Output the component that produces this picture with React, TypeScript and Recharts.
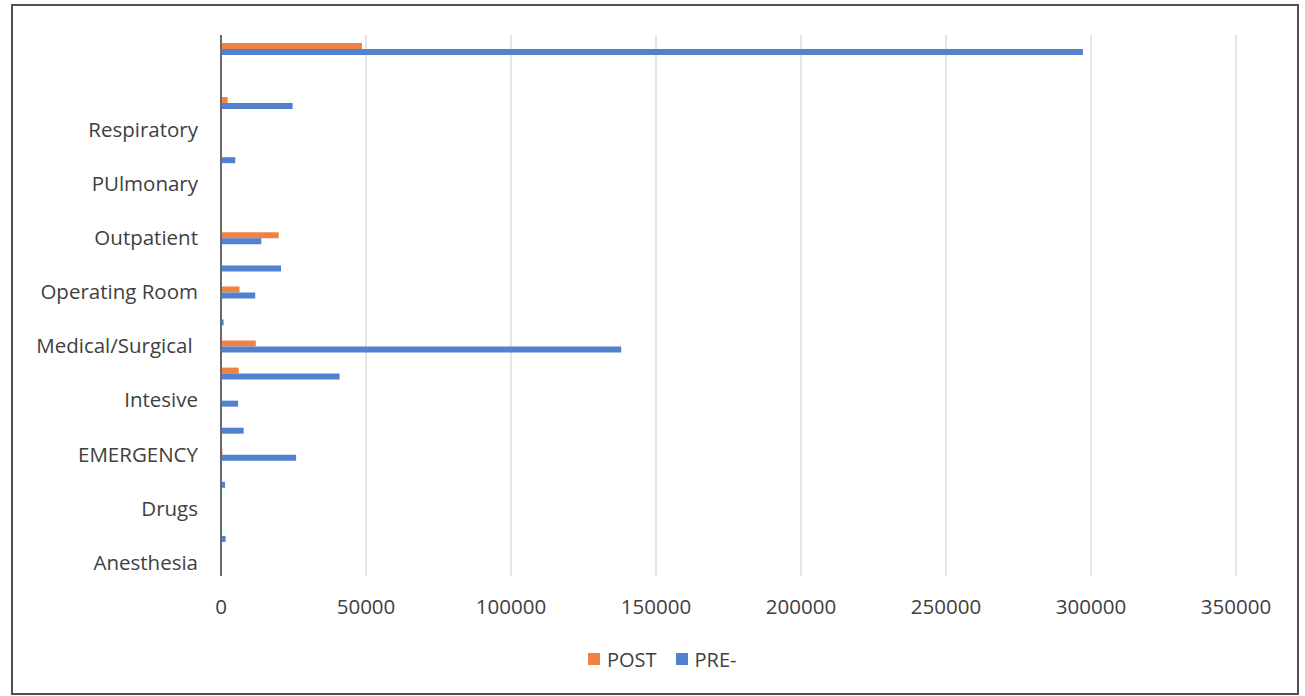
import { FC } from "react";
import {
  BarChart,
  Bar,
  XAxis,
  YAxis,
  CartesianGrid,
} from "recharts";

// categories listed bottom to top; only every other one gets a label on the axis
const categories = [
  "Anesthesia",
  "Cardiology",
  "Drugs",
  "Dialysis",
  "EMERGENCY",
  "Imaging",
  "Intesive",
  "Laboratory",
  "Medical/Surgical\u00a0",
  "Nursing",
  "Operating Room",
  "Orthopedics",
  "Outpatient",
  "Pharmacy",
  "PUlmonary",
  "Radiology",
  "Respiratory",
  "Rehabilitation",
  "",
  "Total",
];

const post = [0, 0, 0, 0, 500, 0, 0, 6100, 12000, 0, 6400, 0, 19900, 0, 0, 0, 0, 2300, 0, 48600];
const pre = [0, 1600, 0, 1400, 25900, 7800, 5900, 40900, 138000, 900, 11800, 20700, 13900, 0, 0, 4900, 0, 24700, 0, 297200];

const xTicks = [0, 50000, 100000, 150000, 200000, 250000, 300000, 350000];

const seriesNames = ["POST", "PRE-"];
const seriesColors = ["#EF8442", "#5281CF"];

const data = categories.map((name, i) => ({ name, post: post[i], pre: pre[i] }));

const FONT = "'Open Sans', 'Noto Sans', sans-serif";
const TEXT = "#404040";

const App: FC = () => {
  return (
    <div
      style={{
        position: "absolute",
        left: 0,
        top: 0,
        width: 1305,
        height: 696,
        background: "#fff",
        fontFamily: FONT,
      }}
    >
      {/* outer frame */}
      <div
        style={{
          position: "absolute",
          left: 11,
          top: 4,
          width: 1288,
          height: 691,
          border: "2px solid #505050",
          boxSizing: "border-box",
        }}
      />
      <div style={{ position: "absolute", left: 0, top: 0 }}>
        <BarChart
          width={1305}
          height={696}
          data={data}
          layout="vertical"
          barSize={6}
          barGap={0}
          margin={{ top: 35, right: 69, left: 0, bottom: 90 }}
        >
          <CartesianGrid
            horizontal={false}
            vertical
            stroke="#dcdcdc"
            strokeWidth={1.5}
          />
          <XAxis
            type="number"
            domain={[0, 350000]}
            ticks={xTicks}
            height={30}
            axisLine={false}
            tickLine={false}
            tickMargin={17}
            tick={{ fontSize: 20.5, fill: TEXT, fontFamily: FONT }}
          />
          <YAxis
            type="category"
            dataKey="name"
            reversed
            width={221}
            interval={1}
            axisLine={{ stroke: "#6a6a6a", strokeWidth: 2 }}
            tickLine={false}
            tickMargin={17}
            tick={{ fontSize: 20.5, fill: TEXT, fontFamily: FONT }}
          />
          <Bar
            dataKey="post"
            name={seriesNames[0]}
            fill={seriesColors[0]}
            isAnimationActive={false}
          />
          <Bar
            dataKey="pre"
            name={seriesNames[1]}
            fill={seriesColors[1]}
            isAnimationActive={false}
          />
        </BarChart>
      </div>
      {/* legend */}
      <div
        style={{
          position: "absolute",
          left: 588,
          top: 648,
          display: "flex",
          alignItems: "center",
          height: 22,
          fontSize: 20,
          color: TEXT,
        }}
      >
        {seriesNames.map((s, i) => (
          <div
            key={s}
            style={{ display: "flex", alignItems: "center", marginRight: 19 }}
          >
            <div
              style={{
                width: 12,
                height: 12,
                background: seriesColors[i],
                marginRight: 7,
              }}
            />
            <span>{s}</span>
          </div>
        ))}
      </div>
    </div>
  );
};

export default App;
